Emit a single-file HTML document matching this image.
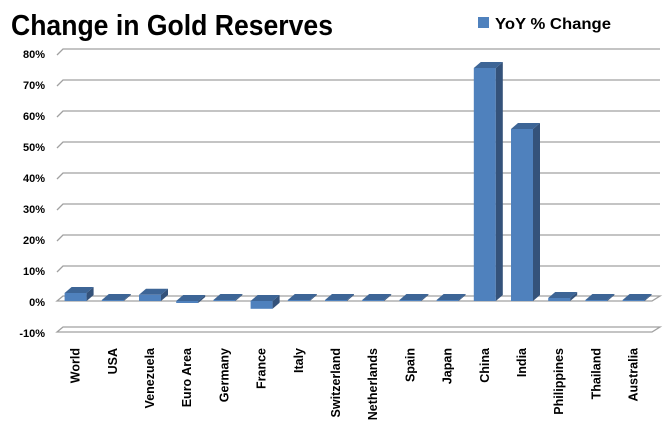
<!DOCTYPE html>
<html><head><meta charset="utf-8"><style>
html,body{margin:0;padding:0;background:#fff;}
svg{display:block;font-family:"Liberation Sans",sans-serif;}
</style></head><body>
<svg width="669" height="434" viewBox="0 0 669 434" xmlns="http://www.w3.org/2000/svg">
<text x="11" y="35" font-size="29" font-weight="bold" textLength="322" lengthAdjust="spacingAndGlyphs">Change in Gold Reserves</text>
<rect x="478" y="17" width="11" height="11" fill="#4f81bd"/>
<text x="495" y="29" font-size="16" font-weight="bold" textLength="116" lengthAdjust="spacingAndGlyphs">YoY % Change</text>
<g font-size="11" font-weight="bold" text-anchor="end">
<text x="45" y="58">80%</text><text x="45" y="89">70%</text><text x="45" y="120">60%</text><text x="45" y="151">50%</text><text x="45" y="182">40%</text><text x="45" y="213">30%</text><text x="45" y="244">20%</text><text x="45" y="275">10%</text><text x="45" y="306">0%</text><text x="45" y="337">-10%</text>
</g>
<g stroke="#a0a0a0" stroke-width="1.3" fill="none">
<path d="M57 55 L63 49 H660"/><path d="M57 86 L63 80 H660"/><path d="M57 117 L63 111 H660"/><path d="M57 148 L63 142 H660"/><path d="M57 179 L63 173 H660"/><path d="M57 210 L63 204 H660"/><path d="M57 241 L63 235 H660"/><path d="M57 272 L63 266 H660"/>
<path d="M57 301 L63 296 H660 L652 301 Z"/>
<path d="M57 332 L63 327 H660 L652 332 Z"/>
</g>
<defs>
<g id="z"><rect x="0" y="300" width="22" height="1" fill="#4f81bd"/><polygon points="22,300 29,294 29,295 22,301" fill="#34527a"/><polygon points="0,300 7,294 29,294 22,300" fill="#3d6596"/></g>
</defs>
<!-- World 2.6 -->
<g transform="translate(64.6,0)"><rect x="0" y="293" width="22" height="8" fill="#4f81bd"/><polygon points="22,293 29,287 29,295 22,301" fill="#34527a"/><polygon points="0,293 7,287 29,287 22,293" fill="#3d6596"/></g>
<use href="#z" transform="translate(101.8,0)"/>
<!-- Venezuela 2 -->
<g transform="translate(139,0)"><rect x="0" y="294.8" width="22" height="6.2" fill="#4f81bd"/><polygon points="22,294.8 29,288.8 29,295 22,301" fill="#34527a"/><polygon points="0,294.8 7,288.8 29,288.8 22,294.8" fill="#3d6596"/></g>
<!-- Euro -0.6 -->
<g transform="translate(176.2,0)"><rect x="0" y="301" width="22" height="2" fill="#4f81bd"/><polygon points="22,301 29,295 29,297 22,303" fill="#34527a"/><polygon points="0,301 7,295 29,295 22,301" fill="#3d6596"/></g>
<use href="#z" transform="translate(213.4,0)"/>
<!-- France -2.5 -->
<g transform="translate(250.6,0)"><rect x="0" y="301" width="22" height="7.8" fill="#4f81bd"/><polygon points="22,301 29,295 29,302.8 22,308.8" fill="#34527a"/><polygon points="0,301 7,295 29,295 22,301" fill="#3d6596"/></g>
<use href="#z" transform="translate(287.8,0)"/>
<use href="#z" transform="translate(325,0)"/>
<use href="#z" transform="translate(362.2,0)"/>
<use href="#z" transform="translate(399.4,0)"/>
<use href="#z" transform="translate(436.6,0)"/>
<!-- China -->
<g transform="translate(473.8,0)"><rect x="0" y="68" width="22" height="233" fill="#4f81bd"/><polygon points="22,68 29,62 29,295 22,301" fill="#34527a"/><polygon points="0,68 7,62 29,62 22,68" fill="#3d6596"/></g>
<!-- India -->
<g transform="translate(511,0)"><rect x="0" y="129" width="22" height="172" fill="#4f81bd"/><polygon points="22,129 29,123 29,295 22,301" fill="#34527a"/><polygon points="0,129 7,123 29,123 22,129" fill="#3d6596"/></g>
<!-- Philippines -->
<g transform="translate(548.2,0)"><rect x="0" y="298" width="22" height="3" fill="#4f81bd"/><polygon points="22,298 29,292 29,295 22,301" fill="#34527a"/><polygon points="0,298 7,292 29,292 22,298" fill="#3d6596"/></g>
<use href="#z" transform="translate(585.4,0)"/>
<use href="#z" transform="translate(622.6,0)"/>
<g font-size="12.5" font-weight="bold" text-anchor="end">
<text transform="translate(79.6,348) rotate(-90)">World</text>
<text transform="translate(116.8,348) rotate(-90)">USA</text>
<text transform="translate(154,348) rotate(-90)">Venezuela</text>
<text transform="translate(191.2,348) rotate(-90)">Euro Area</text>
<text transform="translate(228.4,348) rotate(-90)">Germany</text>
<text transform="translate(265.6,348) rotate(-90)">France</text>
<text transform="translate(302.8,348) rotate(-90)">Italy</text>
<text transform="translate(340,348) rotate(-90)">Switzerland</text>
<text transform="translate(377.2,348) rotate(-90)">Netherlands</text>
<text transform="translate(414.4,348) rotate(-90)">Spain</text>
<text transform="translate(451.6,348) rotate(-90)">Japan</text>
<text transform="translate(488.8,348) rotate(-90)">China</text>
<text transform="translate(526,348) rotate(-90)">India</text>
<text transform="translate(563.2,348) rotate(-90)">Philippines</text>
<text transform="translate(600.4,348) rotate(-90)">Thailand</text>
<text transform="translate(637.6,348) rotate(-90)">Australia</text>
</g>
</svg>
</body></html>
